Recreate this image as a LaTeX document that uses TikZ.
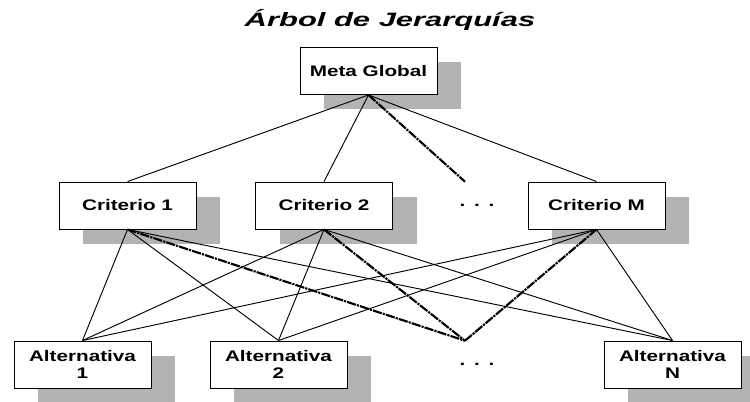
\documentclass[tikz,border=0pt]{standalone}
\usepackage{fontspec}
\setmainfont{Liberation Sans}[FakeStretch=1.35]
\newfontfamily\titlefont{Liberation Sans}[FakeStretch=1.6]
\usetikzlibrary{shadows}
\usepackage{xcolor}
\definecolor{boxshadow}{HTML}{B3B3B3}

\begin{document}
\begin{tikzpicture}[x=0.75pt, y=-0.75pt,
  box/.style={draw, fill=white, line width=0.7pt, minimum width=102.75pt, minimum height=35.25pt, align=center, inner sep=1pt, font=\fontsize{11.5}{12.5}\selectfont\bfseries, copy shadow={shadow xshift=18pt, shadow yshift=-11.25pt, fill=boxshadow, draw=none}},
  hidden/.style={minimum width=102.75pt, minimum height=35.25pt, inner sep=1pt, font=\fontsize{11.5}{12.5}\selectfont\bfseries},
  link/.style={line width=0.7pt},
  dotlink/.style={line width=1.6pt, dash pattern=on 7pt off 0.8pt on 1.6pt off 0.8pt}]
\useasboundingbox (0,0) rectangle (750,402);
\node[anchor=base, font=\titlefont\fontsize{14.5}{17}\selectfont\bfseries\itshape] (title) at (390,27) {Árbol de Jerarquías};
\node[box] (meta) at (368.5,71) {Meta Global};
\node[box] (crit1) at (127.5,205.5) {Criterio 1};
\node[box] (crit2) at (324,205.5) {Criterio 2};
\node[hidden] (critdots) at (465,205.5) {\hspace{18pt}.\hspace{6.5pt}.\hspace{6.5pt}.};
\node[box] (critM) at (596.5,205.5) {Criterio M};
\node[box] (alt1) at (82.5,364.5) {Alternativa\\1};
\node[box] (alt2) at (278.5,364.5) {Alternativa\\2};
\node[hidden] (altdots) at (465,364.5) {\hspace{18pt}.\hspace{6.5pt}.\hspace{6.5pt}.};
\node[box] (altN) at (672.5,364.5) {Alternativa\\N};
\foreach \c in {crit1,crit2,critM} \draw[link] (meta.south) -- (\c.north);
\draw[dotlink] (meta.south) -- (critdots.north);
\foreach \c in {crit1,crit2,critM} {
  \foreach \a in {alt1,alt2,altN} \draw[link] (\c.south) -- (\a.north);
  \draw[dotlink] (\c.south) -- (altdots.north);
}
\end{tikzpicture}
\end{document}
